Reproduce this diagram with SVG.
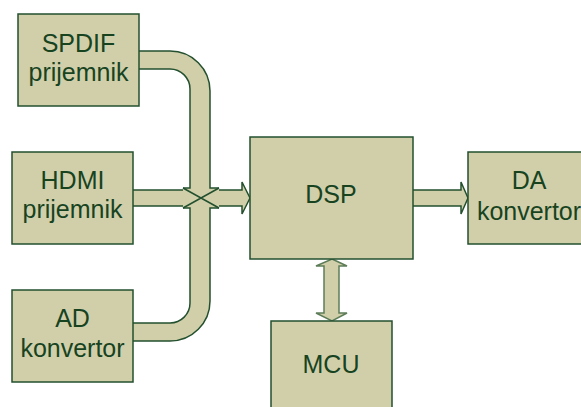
<svg xmlns="http://www.w3.org/2000/svg" width="581" height="407" viewBox="0 0 581 407">
<style>
.box{fill:#d1cfaa;stroke:#23502e;stroke-width:1.5}
.lbl{font-family:"Liberation Sans",Arial,sans-serif;font-size:25px;fill:#17431f;text-anchor:middle}
.fill{fill:#d1cfaa;stroke:none}
.edge{fill:none;stroke:#23502e;stroke-width:1.5}
.bus{fill:#d1cfaa;stroke:#5d7d58;stroke-width:1.5}
</style>
<rect width="581" height="407" fill="#ffffff"/>
<g id="connectors">
  <g id="inputs-bus">
    <path class="fill" d="M139,51 H170 A40,40 0 0 1 210,91 V188 H219 V208 H210 V301 A40,40 0 0 1 170,341 H133 V323 H170 A20,20 0 0 0 190,303 V208 H183 V188 H190 V89 A20,20 0 0 0 170,69 H139 Z"/>
    <path class="fill" d="M133,190 H242 V182 L250,198 L242,214 V206 H133 Z"/>
    <path class="edge" d="M139,51 H170 A40,40 0 0 1 210,91 V188 H219"/>
    <path class="edge" d="M139,69 H170 A20,20 0 0 1 190,89 V188 H183"/>
    <path class="edge" d="M133,341 H170 A40,40 0 0 0 210,301 V208 H219"/>
    <path class="edge" d="M133,323 H170 A20,20 0 0 0 190,303 V208 H183"/>
    <path class="edge" d="M133,190 H183 M219,190 H242 V182 L250,198 L242,214 V206 H219 M133,206 H183"/>
    <path class="edge" d="M183,188 L219,208 M183,208 L219,188"/>
  </g>
  <path id="dsp-da" class="box" d="M413,190 H461 V182 L468,198 L461,214 V206 H413"/>
  <path id="dsp-mcu" class="bus" d="M332,259 L347,266 H339 V313 H347 L332,321 L316,313 H324 V266 H316 Z"/>
</g>
<g id="spdif">
  <rect class="box" x="18" y="14" width="121" height="92"/>
  <text class="lbl" x="78.5" y="52">SPDIF</text>
  <text class="lbl" x="78.5" y="81">prijemnik</text>
</g>
<g id="hdmi">
  <rect class="box" x="12" y="152" width="121" height="92"/>
  <text class="lbl" x="72.5" y="189">HDMI</text>
  <text class="lbl" x="72.5" y="218">prijemnik</text>
</g>
<g id="ad">
  <rect class="box" x="12" y="290" width="121" height="92"/>
  <text class="lbl" x="72.5" y="327">AD</text>
  <text class="lbl" x="72.5" y="357">konvertor</text>
</g>
<g id="dsp">
  <rect class="box" x="250" y="137" width="163" height="122"/>
  <text class="lbl" x="331" y="203">DSP</text>
</g>
<g id="da">
  <rect class="box" x="468" y="152" width="122" height="92"/>
  <text class="lbl" x="529" y="189">DA</text>
  <text class="lbl" x="529" y="220">konvertor</text>
</g>
<g id="mcu">
  <rect class="box" x="271" y="321" width="121" height="100"/>
  <text class="lbl" x="331" y="373">MCU</text>
</g>
</svg>
